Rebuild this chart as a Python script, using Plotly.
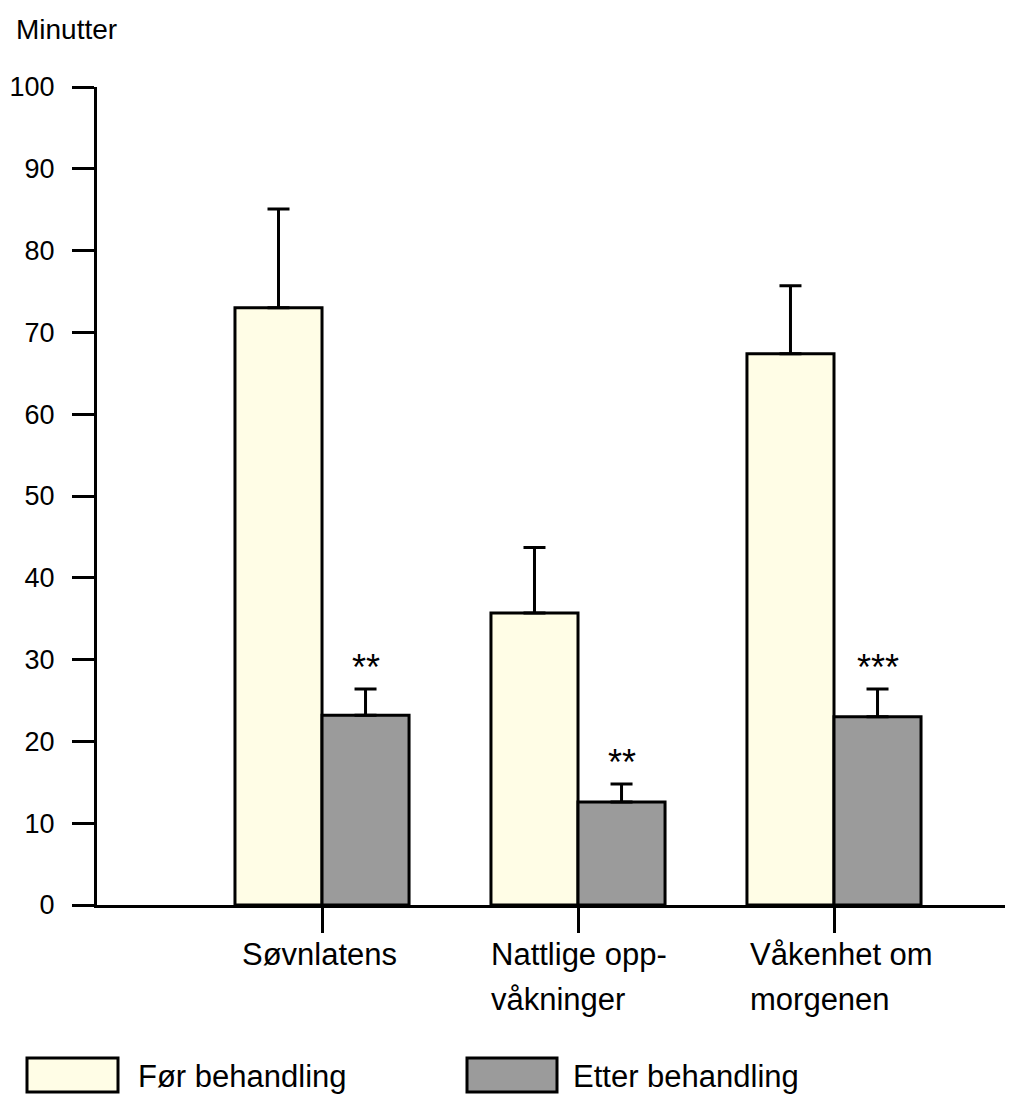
import plotly.graph_objects as go

categories = ["Søvnlatens", "Nattlige opp-<br>våkninger", "Våkenhet om<br>morgenen"]
for_values = [73.0, 35.7, 67.4]
for_errors = [12.1, 8.0, 8.3]
etter_values = [23.2, 12.6, 23.0]
etter_errors = [3.2, 2.2, 3.4]
significance = ["**", "**", "***"]
y_ticks = [0, 10, 20, 30, 40, 50, 60, 70, 80, 90, 100]
legend_names = ["Før behandling", "Etter behandling"]

FONT = "Liberation Sans, Arial, sans-serif"
C_FOR = "#FFFDE6"
C_ETTER = "#9B9B9B"

x_idx = list(range(len(categories)))

fig = go.Figure()
fig.add_trace(go.Bar(
    x=x_idx, y=for_values, name=legend_names[0],
    marker=dict(color=C_FOR, line=dict(color="black", width=3)),
    error_y=dict(type="data", array=for_errors, arrayminus=[0]*3, symmetric=False,
                 color="black", thickness=3, width=11),
))
fig.add_trace(go.Bar(
    x=x_idx, y=etter_values, name=legend_names[1],
    marker=dict(color=C_ETTER, line=dict(color="black", width=3)),
    error_y=dict(type="data", array=etter_errors, arrayminus=[0]*3, symmetric=False,
                 color="black", thickness=3, width=11),
))

annotations = []
# significance stars above Etter bars
for i, s in enumerate(significance):
    annotations.append(dict(
        x=i + 0.17, y=etter_values[i] + etter_errors[i], xref="x", yref="y",
        text=s, showarrow=False, yanchor="bottom", yshift=-1,
        font=dict(family=FONT, size=36, color="black"),
    ))
# category labels (left-aligned blocks under each tick)
label_xshift = [-82, -89, -86]
for i, c in enumerate(categories):
    for j, line in enumerate(c.split("<br>")):
        annotations.append(dict(
            x=i, y=0, xref="x", yref="paper", text=line, showarrow=False,
            xanchor="left", yanchor="top", xshift=label_xshift[i], yshift=-30 - 45 * j,
            font=dict(family=FONT, size=31, color="black"),
        ))
# y-axis title
annotations.append(dict(
    x=(14 - 97) / 908, y=(905 - 30) / 818, xref="paper", yref="paper",
    text="Minutter", showarrow=False, xanchor="left", yanchor="middle",
    font=dict(family=FONT, size=28, color="black"),
))

# legend (drawn manually)
shapes = []
leg_boxes = [(27, 118, C_FOR), (467, 557, C_ETTER)]
leg_text_x = [136, 571]
for (x0, x1, col), tx, name in zip(leg_boxes, leg_text_x, legend_names):
    shapes.append(dict(
        type="rect", xref="paper", yref="paper",
        x0=(x0 - 97) / 908, x1=(x1 - 97) / 908,
        y0=(905 - 1092) / 818, y1=(905 - 1058) / 818,
        fillcolor=col, line=dict(color="black", width=3),
    ))
    annotations.append(dict(
        x=(tx - 97) / 908, y=(905 - 1076) / 818, xref="paper", yref="paper",
        text=name, showarrow=False, xanchor="left", yanchor="middle",
        font=dict(family=FONT, size=31, color="black"),
    ))

fig.update_layout(
    width=1014, height=1087,
    margin=dict(l=89, r=17, t=79, b=190),
    paper_bgcolor="white", plot_bgcolor="white",
    barmode="group", bargap=0.32, bargroupgap=0,
    showlegend=False,
    annotations=annotations, shapes=shapes,
    font=dict(family=FONT, color="black"),
)
fig.update_xaxes(
    range=[-0.879, 2.668], tickvals=x_idx, showticklabels=False,
    showline=True, linecolor="black", linewidth=3,
    ticks="outside", ticklen=25, tickwidth=3, tickcolor="black",
    showgrid=False, zeroline=False, automargin=False,
)
fig.update_yaxes(
    range=[0, 100], tickvals=y_ticks, ticktext=[str(v) for v in y_ticks],
    showline=True, linecolor="black", linewidth=3,
    ticks="outside", ticklen=22, tickwidth=3, tickcolor="black",
    ticklabelstandoff=12,
    tickfont=dict(family=FONT, size=27, color="black"),
    showgrid=False, zeroline=False, automargin=False,
)

fig.write_html("out.html")
